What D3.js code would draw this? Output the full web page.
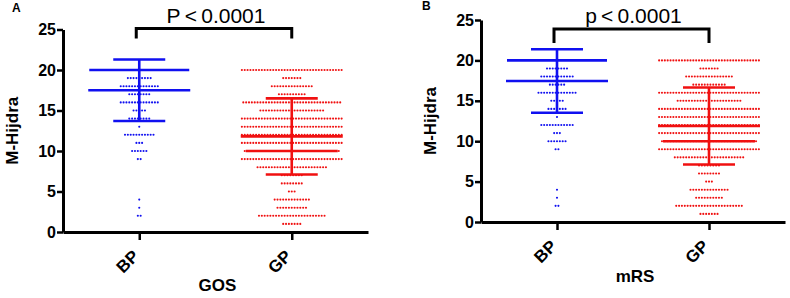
<!DOCTYPE html>
<html>
<head>
<meta charset="utf-8">
<script src="https://cdn.jsdelivr.net/npm/d3@7"></script>
<style>
  body { margin: 0; background: #fff; }
  svg { display: block; font-family: "Liberation Sans", Arial, sans-serif; }
  .tick text { font-weight: bold; fill: #000; }
</style>
</head>
<body>
<script>
// données
const groups = ["BP", "GP"];
const scores = [20, 19, 18, 17, 16, 15, 14, 13, 12, 11, 10, 9, 8, 7, 6, 5, 4, 3, 2, 1];
const yTicks = [0, 5, 10, 15, 20, 25];

// nombre de patients par score (A = GOS, B = mRS)
const gosBP = [0, 9, 14, 8, 14, 5, 8, 1, 11, 3, 6, 2, 0, 0, 0, 0, 1, 1, 2, 0];
const gosGP = [36, 7, 15, 10, 35, 23, 36, 36, 36, 36, 34, 36, 25, 8, 8, 3, 13, 11, 24, 7];
const mrsBP = [0, 8, 12, 6, 14, 5, 7, 1, 12, 3, 7, 2, 0, 0, 0, 0, 1, 1, 2, 0];
const mrsGP = [36, 7, 17, 12, 36, 23, 36, 36, 36, 36, 34, 36, 25, 8, 8, 3, 14, 10, 24, 7];

// moyenne, écart-type, médiane
const gosMean = [17.5, 11.8];
const gosSd = [3.8, 4.7];
const gosMedian = [20, 10];
const mrsMean = [17.45, 11.88];
const mrsSd = [3.93, 4.77];
const mrsMedian = [20, 10];

const colors = { BP: "#1010f0", GP: "#f01010" };
const dotStep = 2.85;

const width = 790;
const height = 298;

const svg = d3.select("body")
    .append("svg")
    .attr("width", width)
    .attr("height", height);

function drawPanel(p) {
    const x = d3.scalePoint().domain(groups).range([p.left, p.right]).padding(0.5);
    const y = d3.scaleLinear().domain([0, 25]).range([p.bottom, p.top]);

    const g = svg.append("g");

    // points
    groups.forEach((grp, gi) => {
        const counts = p.counts[gi];
        const pts = [];
        scores.forEach((s, i) => {
            const n = counts[i];
            for (let k = 0; k < n; k++) {
                pts.push({ s: s, off: (k - (n - 1) / 2) * dotStep });
            }
        });
        g.append("g").selectAll("circle")
            .data(pts)
            .join("circle")
            .attr("cx", d => x(grp) + d.off)
            .attr("cy", d => y(d.s))
            .attr("r", 1.05)
            .attr("fill", colors[grp]);
    });

    // moyenne ± SD et médiane
    groups.forEach((grp, gi) => {
        const cx = x(grp);
        const m = p.mean[gi], sd = p.sd[gi];
        const sg = g.append("g").attr("stroke", colors[grp]).attr("stroke-width", 2.6);
        sg.append("line").attr("x1", cx).attr("x2", cx).attr("y1", y(m - sd)).attr("y2", y(m + sd));
        [m - sd, m + sd].forEach(v => {
            sg.append("line").attr("x1", cx - 26).attr("x2", cx + 26).attr("y1", y(v)).attr("y2", y(v));
        });
        sg.append("line").attr("x1", cx - 51).attr("x2", cx + 51).attr("y1", y(m)).attr("y2", y(m));
        const mh = gi === 0 ? 50 : 46;
        sg.append("line").attr("x1", cx - mh).attr("x2", cx + mh).attr("y1", y(p.median[gi])).attr("y2", y(p.median[gi]));
    });

    // axes
    const yAxis = g.append("g")
        .attr("transform", "translate(" + p.left + ",0)")
        .call(d3.axisLeft(y).tickValues(yTicks).tickSize(6).tickSizeOuter(0).tickPadding(1));
    yAxis.attr("font-size", null).attr("font-family", null);
    yAxis.selectAll("text").style("font-size", "16px");

    const xAxis = g.append("g")
        .attr("transform", "translate(0," + p.bottom + ")")
        .call(d3.axisBottom(x).tickSize(8).tickSizeOuter(0));
    xAxis.attr("font-size", null).attr("font-family", null);
    xAxis.selectAll("text")
        .attr("x", 0).attr("y", 0).attr("dy", "0.35em")
        .attr("transform", "translate(-4,21) rotate(-45)")
        .style("text-anchor", "end")
        .style("font-size", "17px");

    [yAxis, xAxis].forEach(a => {
        a.select(".domain").attr("stroke-width", 3);
        a.selectAll(".tick line").attr("stroke-width", 2.5);
    });

    // crochet de significativité
    const x1 = x("BP") - 3, x2 = x("GP");
    g.append("path")
        .attr("d", `M${x1},${p.bracketTip}V${p.bracketTop}H${x2}V${p.bracketTip}`)
        .attr("fill", "none")
        .attr("stroke", "#000")
        .attr("stroke-width", 3);

    g.append("text")
        .attr("x", (x1 + x2) / 2 + 2)
        .attr("y", p.bracketTop - 6)
        .attr("text-anchor", "middle")
        .style("font-size", "21px")
        .text(p.pText);

    // titres des axes
    g.append("text")
        .attr("transform", `translate(${p.yLabelX},${(p.top + p.bottom) / 2}) rotate(-90)`)
        .attr("text-anchor", "middle")
        .style("font-size", "17px")
        .style("font-weight", "bold")
        .text("M-Hijdra");

    g.append("text")
        .attr("x", (p.left + p.right) / 2 + 2)
        .attr("y", p.xLabelY)
        .attr("text-anchor", "middle")
        .style("font-size", "17px")
        .style("font-weight", "bold")
        .text(p.xLabel);

    g.append("text")
        .attr("x", p.letterX)
        .attr("y", p.letterY)
        .style("font-size", "12px")
        .style("font-weight", "bold")
        .text(p.letter);
}

drawPanel({
    left: 63, right: 368, top: 29.5, bottom: 232,
    counts: [gosBP, gosGP], mean: gosMean, sd: gosSd, median: gosMedian,
    bracketTop: 28.5, bracketTip: 38.5, pText: "P\u2009<\u20090.0001",
    yLabelX: 18, xLabel: "GOS", xLabelY: 291, letter: "A", letterX: 12, letterY: 12
});

drawPanel({
    left: 481, right: 785, top: 20, bottom: 222,
    counts: [mrsBP, mrsGP], mean: mrsMean, sd: mrsSd, median: mrsMedian,
    bracketTop: 29, bracketTip: 43, pText: "p\u2009<\u20090.0001",
    yLabelX: 436, xLabel: "mRS", xLabelY: 282, letter: "B", letterX: 422, letterY: 10
});
</script>
</body>
</html>
